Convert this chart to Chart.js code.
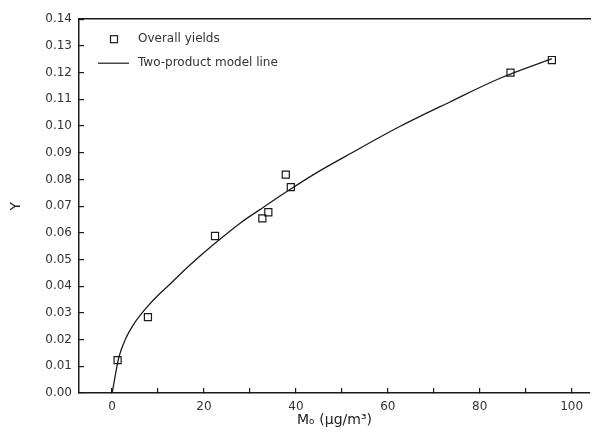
<!DOCTYPE html>
<html>
<head>
<meta charset="utf-8">
<script src="https://cdn.jsdelivr.net/npm/chart.js@4"></script>
<style>
  html, body { margin: 0; padding: 0; background: #fff; }
  #wrap { width: 598px; height: 437px; }
</style>
</head>
<body>
<div id="wrap"><canvas id="chart"></canvas></div>
<script>
// overall yields (open squares), Mo in ug/m3
const yieldMo = [1.2, 7.8, 22.4, 32.7, 34.0, 37.8, 38.9, 86.7, 95.7];
const yieldY  = [0.0123, 0.0284, 0.0588, 0.0654, 0.0677, 0.0818, 0.0771, 0.1200, 0.1247];

// two-product model line
const modelMo = [0, 1.5, 3, 5, 7.5, 10, 12, 17, 22, 28, 32, 38.7, 45, 52, 62.6, 73.5, 84.3, 95.7];
const modelY  = [0, 0.0135, 0.0205, 0.0265, 0.032, 0.0366, 0.0398, 0.048, 0.0555, 0.0638, 0.0685, 0.0762, 0.083, 0.0898, 0.0998, 0.109, 0.1178, 0.1252];

const xLabels = [0, 20, 40, 60, 80, 100];

const toPoints = (xs, ys) => xs.map((x, i) => ({ x: x, y: ys[i] }));

const tickFont = { family: '"DejaVu Sans"', size: 12 };
const inkColor = '#1a1a1a';

// legend sits inside the plot, top left
const insideLegend = {
  id: 'insideLegend',
  afterDatasetsDraw(chart) {
    const { ctx, chartArea } = chart;
    const left = chartArea.left, top = chartArea.top;
    ctx.save();
    ctx.font = '12px "DejaVu Sans"';
    ctx.fillStyle = '#333';
    ctx.textBaseline = 'middle';
    ctx.strokeStyle = inkColor;
    ctx.lineWidth = 1.2;
    ctx.strokeRect(left + 35 - 3.5, top + 20 - 3.5, 7, 7);
    ctx.fillText(chart.data.datasets[0].label, left + 59, top + 20);
    ctx.beginPath();
    ctx.moveTo(left + 19, top + 44);
    ctx.lineTo(left + 50, top + 44);
    ctx.stroke();
    ctx.fillText(chart.data.datasets[1].label, left + 59, top + 44);
    ctx.restore();
  }
};

new Chart(document.getElementById('chart'), {
  type: 'scatter',
  data: {
    datasets: [
      {
        label: 'Overall yields',
        data: toPoints(yieldMo, yieldY),
        pointStyle: 'rect',
        pointRadius: 5,
        borderColor: inkColor,
        borderWidth: 1.2,
        backgroundColor: 'rgba(0,0,0,0)'
      },
      {
        label: 'Two-product model line',
        data: toPoints(modelMo, modelY),
        showLine: true,
        cubicInterpolationMode: 'monotone',
        pointRadius: 0,
        borderColor: inkColor,
        borderWidth: 1.3,
        backgroundColor: inkColor
      }
    ]
  },
  options: {
    responsive: true,
    maintainAspectRatio: false,
    animation: false,
    layout: { padding: { top: 17, right: 8, left: 0, bottom: 0 } },
    plugins: {
      legend: { display: false },
      tooltip: { enabled: false }
    },
    scales: {
      x: {
        type: 'linear',
        position: 'bottom',
        min: -7.2,
        max: 104,
        afterBuildTicks: axis => { axis.ticks = axis.ticks.filter(t => t.value % 10 === 0); },
        afterFit: scale => { scale.height = 44; },
        border: { color: inkColor, width: 1.5 },
        grid: { drawOnChartArea: false, tickLength: -5, color: inkColor, lineWidth: 1.2 },
        ticks: {
          stepSize: 10,
          includeBounds: false,
          autoSkip: false,
          maxRotation: 0,
          padding: 12,
          color: '#333',
          font: tickFont,
          callback: v => xLabels.includes(v) ? String(v) : ''
        },
        title: {
          display: true,
          text: 'Mₒ (µg/m³)',
          color: '#222',
          font: { family: '"DejaVu Sans"', size: 14 },
          padding: { top: 4, bottom: 8 }
        }
      },
      top: {
        type: 'linear',
        position: 'top',
        min: -7.2,
        max: 104,
        afterFit: scale => { scale.height = 0; },
        border: { color: inkColor, width: 1.5 },
        grid: { display: false },
        ticks: { display: false }
      },
      y: {
        min: 0,
        max: 0.14,
        afterFit: scale => { scale.width = 79; },
        border: { color: inkColor, width: 1.5 },
        grid: { drawOnChartArea: false, tickLength: -5, color: inkColor, lineWidth: 1.2 },
        ticks: {
          stepSize: 0.01,
          padding: 12,
          color: '#333',
          font: tickFont,
          callback: v => v.toFixed(2)
        },
        title: {
          display: true,
          text: 'Y',
          color: '#222',
          font: { family: '"DejaVu Sans"', size: 14 },
          padding: { top: 8, bottom: 4 }
        }
      }
    }
  },
  plugins: [insideLegend]
});
</script>
</body>
</html>
